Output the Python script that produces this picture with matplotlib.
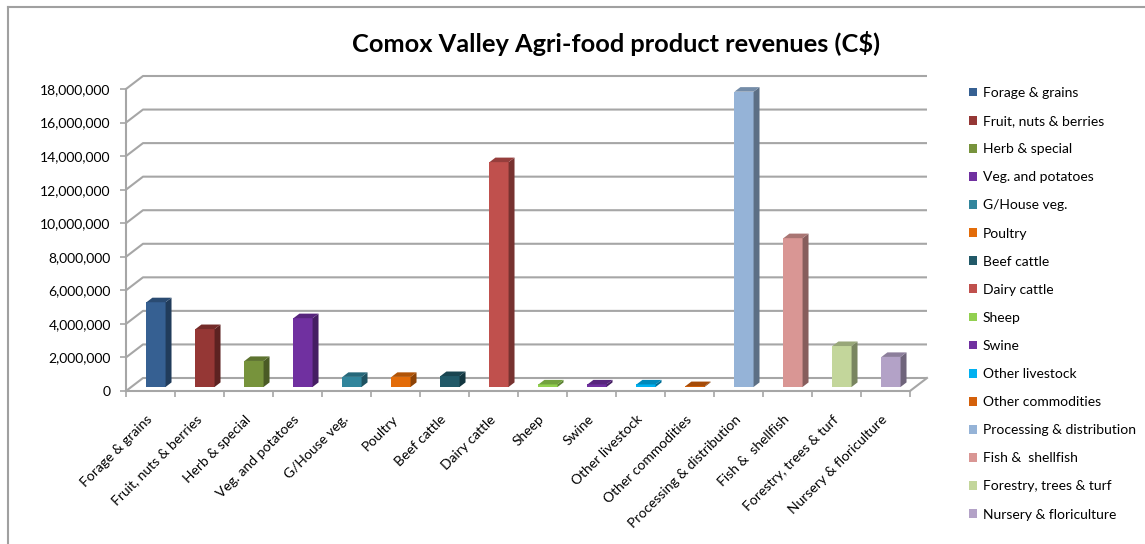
import matplotlib.pyplot as plt
from matplotlib.patches import Polygon, Rectangle, Patch
from matplotlib.lines import Line2D
from matplotlib.ticker import FuncFormatter
import numpy as np

plt.rcParams['font.family'] = ['Lato', 'DejaVu Sans']

categories = ['Forage & grains', 'Fruit, nuts & berries', 'Herb & special',
              'Veg. and potatoes', 'G/House veg.', 'Poultry', 'Beef cattle',
              'Dairy cattle', 'Sheep', 'Swine', 'Other livestock',
              'Other commodities', 'Processing & distribution',
              'Fish &  shellfish', 'Forestry, trees & turf',
              'Nursery & floriculture']
revenues = [5050000, 3450000, 1550000, 4100000, 600000, 600000, 650000,
            13400000, 150000, 150000, 150000, 50000, 17600000,
            8870000, 2440000, 1790000]
colors = ['#366092', '#953735', '#77933c', '#7030a0', '#31859c', '#e36c09',
          '#215968', '#c0504d', '#92d050', '#7030a0', '#00b0f0', '#d4600a',
          '#95b3d7', '#d99694', '#c3d69b', '#b3a2c7']
yticks = np.arange(0, 18000001, 2000000)

W, H = 1145, 544
fig = plt.figure(figsize=(W / 100, H / 100), dpi=100)
fig.patch.set_facecolor('white')

# front plot area in pixels: x 126..910, y 391 (0) .. 89 (18M)
ax = fig.add_axes([126 / W, (H - 391) / H, 784 / W, 302 / H])
ax.set_xlim(0, 16)
ax.set_ylim(0, 18e6)
ax.set_facecolor('none')

px_y = 18e6 / 302.0   # value per pixel
px_x = 16 / 784.0     # category units per pixel
DX = 17 * px_x        # depth offset (back wall)
DY = 13 * px_y

grid_c = '#a6a6a6'

# back wall gridlines + side wall diagonals
for v in yticks:
    ax.plot([0, DX, 16 + DX], [v, v + DY, v + DY], color=grid_c, lw=1.5,
            clip_on=False, zorder=1, solid_capstyle='butt')
# floor right edge
ax.plot([16, 16 + DX], [0, DY], color=grid_c, lw=1.5, clip_on=False, zorder=1)

# 3d-ish bars
z1, z2 = 0.31, 0.66
bw = 0.39


def shade(c, f):
    r, g, b = plt.matplotlib.colors.to_rgb(c)
    return (r * f, g * f, b * f)


for i, (v, c) in enumerate(zip(revenues, colors)):
    x0 = i + 0.31 + z1 * DX
    y0 = z1 * DY
    ddx = (z2 - z1) * DX
    ddy = (z2 - z1) * DY
    front = Rectangle((x0, y0), bw, v, facecolor=c, edgecolor='none', zorder=3)
    side = Polygon([(x0 + bw, y0), (x0 + bw + ddx, y0 + ddy),
                    (x0 + bw + ddx, y0 + v + ddy), (x0 + bw, y0 + v)],
                   facecolor=shade(c, 0.62), edgecolor='none', zorder=3)
    top = Polygon([(x0, y0 + v), (x0 + bw, y0 + v),
                   (x0 + bw + ddx, y0 + v + ddy), (x0 + ddx, y0 + v + ddy)],
                  facecolor=shade(c, 0.78), edgecolor='none', zorder=3)
    for p in (front, side, top):
        p.set_clip_on(False)
        ax.add_patch(p)

# axes styling
for s in ['top', 'right']:
    ax.spines[s].set_visible(False)
for s in ['left', 'bottom']:
    ax.spines[s].set_color(grid_c)
    ax.spines[s].set_linewidth(1.5)
    ax.spines[s].set_zorder(2)

ax.set_yticks(yticks)
ax.yaxis.set_major_formatter(FuncFormatter(lambda v, p: '{:,.0f}'.format(v)))
ax.tick_params(axis='y', length=4, width=1.2, color=grid_c, labelsize=10,
               pad=7, labelcolor='black')

ax.set_xticks(np.arange(16) + 0.5)
ax.set_xticklabels(categories)
ax.set_xticks(np.arange(17), minor=True)
ax.tick_params(axis='x', which='major', length=0, pad=19, labelsize=10)
ax.tick_params(axis='x', which='minor', length=4, width=1.2, color=grid_c)
plt.setp(ax.get_xticklabels(), rotation=45, ha='right', va='center',
         rotation_mode='anchor')

fig.text(616 / W, 1 - 44 / H, 'Comox Valley Agri-food product revenues (C$)',
         ha='center', va='center', fontsize=18.3, fontweight='bold')

handles = [Patch(facecolor=c, edgecolor='none') for c in colors]
fig.legend(handles, categories, loc='upper left',
           bbox_to_anchor=(962 / W, 1 - 80 / H), frameon=False, fontsize=10,
           handlelength=0.6, handleheight=0.6, handletextpad=0.4,
           labelspacing=1.16, borderpad=0)

# chart border
fig.add_artist(Line2D([8 / W, 8 / W], [0, 1 - 7 / H], color='#a0a0a0',
                      lw=1.5, transform=fig.transFigure))
fig.add_artist(Line2D([8 / W, 1], [1 - 7 / H, 1 - 7 / H], color='#a0a0a0',
                      lw=1.5, transform=fig.transFigure))

fig.savefig('out.png', dpi=100)
